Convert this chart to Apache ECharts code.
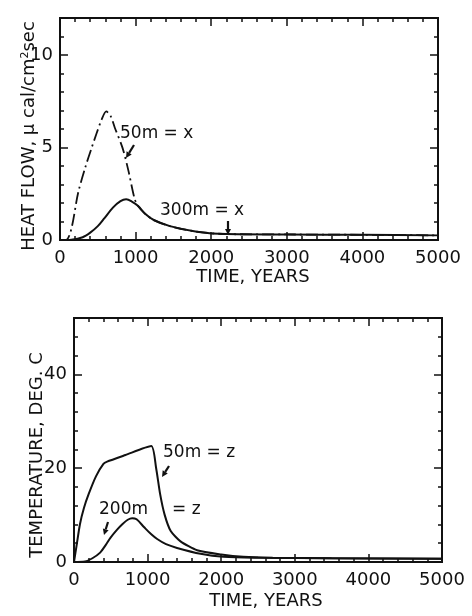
<!DOCTYPE html>
<html>
<head>
<meta charset="utf-8">
<script src="https://cdn.jsdelivr.net/npm/echarts@6/dist/echarts.min.js"></script>
<style>
html, body { margin: 0; padding: 0; background: #fff; }
#chart { width: 472px; height: 616px; }
</style>
</head>
<body>
<div id="chart"></div>
<script>
// heat flow, top panel (years, ucal/cm2 sec)
const heat50Years = [0, 80, 150, 240, 338, 420, 482, 550, 612, 670, 725, 827, 907, 985, 1030, 1130, 1240, 1454, 1810, 2200, 3000, 4000, 5000];
const heat50Values = [0, 0, 0.6, 2.55, 3.97, 5.0, 5.74, 6.5, 6.95, 6.7, 6.07, 4.98, 3.71, 2.26, 1.85, 1.4, 1.08, 0.75, 0.45, 0.32, 0.3, 0.28, 0.25];
const heat300Years = [0, 150, 300, 400, 500, 582, 700, 800, 875, 950, 1030, 1130, 1240, 1454, 1810, 2200, 3000, 4000, 5000];
const heat300Values = [0, 0.02, 0.15, 0.4, 0.75, 1.15, 1.75, 2.1, 2.2, 2.08, 1.85, 1.4, 1.08, 0.75, 0.45, 0.32, 0.3, 0.28, 0.25];

// temperature, bottom panel (years, deg C)
const temp50Years = [0, 40, 80, 135, 200, 300, 400, 450, 700, 1050, 1114, 1171, 1231, 1314, 1447, 1672, 2000, 2300, 2700, 3500, 5000];
const temp50Values = [0, 4, 8, 11.5, 14.5, 18.3, 20.9, 21.4, 22.8, 24.7, 20.2, 14.4, 10.1, 6.6, 4.4, 2.5, 1.6, 1.1, 0.9, 0.8, 0.7];
const temp200Years = [0, 150, 250, 355, 430, 497, 580, 660, 730, 790, 850, 954, 1050, 1130, 1250, 1400, 1720, 2030, 2500, 3500, 5000];
const temp200Values = [0, 0.1, 0.8, 2.0, 3.6, 5.2, 6.8, 8.1, 9.0, 9.35, 9.1, 7.4, 5.9, 4.9, 3.8, 3.0, 1.75, 1.1, 0.9, 0.8, 0.7];

const timeTicks = [0, 1000, 2000, 3000, 4000, 5000];
const heatLabels = [0, 5, 10];
const tempLabels = [0, 20, 40];

const ink = '#111';
const font = 'DejaVu Sans';

const zip = (xs, ys) => xs.map((x, i) => [x, ys[i]]);

function xAxes(grid, pos) {
    return {
        type: 'value', gridIndex: grid, position: pos,
        min: timeTicks[0], max: timeTicks[timeTicks.length - 1], interval: 1000,
        axisLine: {show: true, onZero: false, lineStyle: {color: ink, width: 2}},
        axisTick: {show: true, inside: true, length: 8, lineStyle: {color: ink, width: 1.5}},
        minorTick: {show: true, splitNumber: 5, length: 4, lineStyle: {color: ink, width: 1.5}},
        axisLabel: {
            show: pos === 'bottom', margin: 9, color: ink, fontSize: 18, fontFamily: font,
            formatter: v => timeTicks.indexOf(v) >= 0 ? String(v) : ''
        },
        splitLine: {show: false}
    };
}

function yAxes(grid, pos, max, step, len, labels) {
    return {
        type: 'value', gridIndex: grid, position: pos,
        min: 0, max: max, interval: step,
        axisLine: {show: true, onZero: false, lineStyle: {color: ink, width: 2}},
        axisTick: {show: true, inside: true, length: len, lineStyle: {color: ink, width: 1.5}},
        axisLabel: {
            show: !!labels, margin: 7, color: ink, fontSize: 18, fontFamily: font,
            formatter: v => (labels && labels.indexOf(v) >= 0) ? String(v) : ''
        },
        splitLine: {show: false}
    };
}

function arrow(x1, y1, x2, y2) {
    const ang = Math.atan2(y2 - y1, x2 - x1);
    const bx = x2 - 6 * Math.cos(ang), by = y2 - 6 * Math.sin(ang);
    const px = -Math.sin(ang) * 3, py = Math.cos(ang) * 3;
    return [
        {type: 'line', shape: {x1: x1, y1: y1, x2: bx, y2: by}, style: {stroke: ink, lineWidth: 2.2}},
        {type: 'polygon', shape: {points: [[x2, y2], [bx + px, by + py], [bx - px, by - py]]}, style: {fill: ink}}
    ];
}

function label(text, x, y, size, align) {
    return {
        type: 'text', x: x, y: y, z: 100,
        style: {text: text, fill: ink, fontSize: size || 17, fontFamily: font, align: align || 'left', verticalAlign: 'middle'}
    };
}

const chart = echarts.init(document.getElementById('chart'));

const option = {
    backgroundColor: '#fff',
    animation: false,
    grid: [
        {left: 60, top: 18, width: 378, height: 222},
        {left: 74, top: 318, width: 368, height: 244}
    ],
    xAxis: [
        xAxes(0, 'bottom'), xAxes(0, 'top'),
        xAxes(1, 'bottom'), xAxes(1, 'top')
    ],
    yAxis: [
        yAxes(0, 'left', 12, 5, 8, heatLabels),
        yAxes(0, 'left', 12, 1, 4),
        yAxes(0, 'right', 12, 5, 8),
        yAxes(0, 'right', 12, 1, 4),
        yAxes(1, 'left', 52, 20, 8, tempLabels),
        yAxes(1, 'left', 52, 4, 4),
        yAxes(1, 'right', 52, 20, 8),
        yAxes(1, 'right', 52, 4, 4)
    ],
    series: [
        {
            name: '300m', type: 'line', xAxisIndex: 0, yAxisIndex: 0,
            data: zip(heat300Years, heat300Values), symbol: 'none', smooth: 0.3,
            lineStyle: {color: ink, width: 2}
        },
        {
            name: '50m', type: 'line', xAxisIndex: 0, yAxisIndex: 0,
            data: zip(heat50Years, heat50Values), symbol: 'none', smooth: 0.3,
            lineStyle: {color: ink, width: 1.8, type: [12, 4, 2, 4]}
        },
        {
            name: '50m', type: 'line', xAxisIndex: 2, yAxisIndex: 4,
            data: zip(temp50Years, temp50Values), symbol: 'none', smooth: 0.2,
            lineStyle: {color: ink, width: 2}
        },
        {
            name: '200m', type: 'line', xAxisIndex: 2, yAxisIndex: 4,
            data: zip(temp200Years, temp200Values), symbol: 'none', smooth: 0.3,
            lineStyle: {color: ink, width: 2}
        }
    ],
    graphic: [
        label('50m = x', 120, 134),
        label('300m = x', 160, 211),
        label('50m = z', 163, 453),
        label('200m', 99, 510),
        label('= z', 172, 510),
        label('TIME, YEARS', 253, 277, 18, 'center'),
        label('TIME, YEARS', 266, 601, 18, 'center'),
        {
            type: 'text', x: 29, y: 136, rotation: Math.PI / 2, z: 100,
            style: {
                text: 'HEAT FLOW, μ cal/cm{sup|2}sec', fill: ink, fontSize: 18, fontFamily: font,
                align: 'center', verticalAlign: 'middle',
                rich: {sup: {fontSize: 11, fontFamily: font, fill: ink, verticalAlign: 'top'}}
            }
        },
        {
            type: 'text', x: 37, y: 455, rotation: Math.PI / 2, z: 100,
            style: {text: 'TEMPERATURE, DEG. C', fill: ink, fontSize: 18, fontFamily: font, align: 'center', verticalAlign: 'middle'}
        }
    ].concat(arrow(134, 145, 126, 158), arrow(228, 221, 228, 235),
             arrow(169, 466, 162, 477), arrow(108, 522, 104, 535))
};

chart.setOption(option);
</script>
</body>
</html>
